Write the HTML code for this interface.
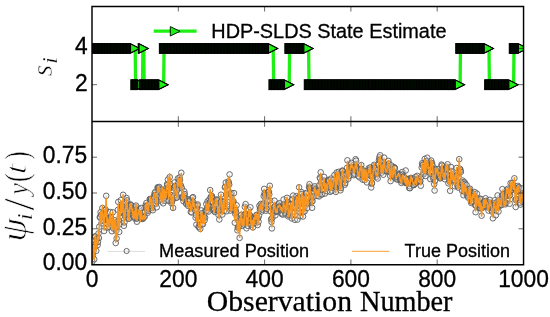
<!DOCTYPE html>
<html><head><meta charset="utf-8"><title>HDP-SLDS State Estimate</title>
<style>html,body{margin:0;padding:0;background:#fff}svg{display:block;will-change:transform}text{font-family:"Liberation Sans",sans-serif;fill:#000;stroke:#000;stroke-width:0.3px}.se{font-family:"Liberation Serif",serif}</style></head><body>
<svg width="550" height="317" viewBox="0 0 550 317">
<rect width="550" height="317" fill="#fff"/>
<defs>
<marker id="tri" markerUnits="userSpaceOnUse" markerWidth="14" markerHeight="14" refX="7" refY="7" orient="0" overflow="visible"><path d="M2.3,2.4 L11.5,7 L2.3,11.6 Z" fill="#1ef014" stroke="#000" stroke-width="1.1" stroke-linejoin="miter"/></marker>
<marker id="cir" markerUnits="userSpaceOnUse" markerWidth="8" markerHeight="8" refX="4" refY="4" overflow="visible"><circle cx="4" cy="4" r="2.80" fill="#eee" fill-opacity="0.3" stroke="#5c5c5c" stroke-opacity="0.9" stroke-width="1"/></marker>
<clipPath id="ct"><rect x="92.0" y="6.5" width="431.5" height="115.0"/></clipPath>
<clipPath id="cb"><rect x="92.0" y="121.5" width="431.5" height="143.0"/></clipPath>
</defs>
<g clip-path="url(#ct)"><polyline fill="none" stroke="#1ef014" stroke-width="3.3" stroke-linejoin="round" marker-start="url(#tri)" marker-mid="url(#tri)" marker-end="url(#tri)" points="92.0,48.4 92.4,48.4 92.9,48.4 93.3,48.4 93.7,48.4 94.2,48.4 94.6,48.4 95.0,48.4 95.5,48.4 95.9,48.4 96.3,48.4 96.7,48.4 97.2,48.4 97.6,48.4 98.0,48.4 98.5,48.4 98.9,48.4 99.3,48.4 99.8,48.4 100.2,48.4 100.6,48.4 101.1,48.4 101.5,48.4 101.9,48.4 102.4,48.4 102.8,48.4 103.2,48.4 103.7,48.4 104.1,48.4 104.5,48.4 104.9,48.4 105.4,48.4 105.8,48.4 106.2,48.4 106.7,48.4 107.1,48.4 107.5,48.4 108.0,48.4 108.4,48.4 108.8,48.4 109.3,48.4 109.7,48.4 110.1,48.4 110.6,48.4 111.0,48.4 111.4,48.4 111.8,48.4 112.3,48.4 112.7,48.4 113.1,48.4 113.6,48.4 114.0,48.4 114.4,48.4 114.9,48.4 115.3,48.4 115.7,48.4 116.2,48.4 116.6,48.4 117.0,48.4 117.5,48.4 117.9,48.4 118.3,48.4 118.8,48.4 119.2,48.4 119.6,48.4 120.0,48.4 120.5,48.4 120.9,48.4 121.3,48.4 121.8,48.4 122.2,48.4 122.6,48.4 123.1,48.4 123.5,48.4 123.9,48.4 124.4,48.4 124.8,48.4 125.2,48.4 125.7,48.4 126.1,48.4 126.5,48.4 127.0,48.4 127.4,48.4 127.8,48.4 128.2,48.4 128.7,48.4 129.1,48.4 129.5,48.4 130.0,48.4 130.4,48.4 130.8,48.4 131.3,48.4 131.7,48.4 132.1,48.4 132.6,48.4 133.0,48.4 133.4,48.4 133.9,48.4 134.3,48.4 134.7,48.4 135.2,48.4 135.6,84.7 136.0,84.7 136.4,84.7 136.9,84.7 137.3,84.7 137.7,84.7 138.2,84.7 138.6,84.7 139.0,84.7 139.5,84.7 139.9,84.7 140.3,84.7 140.8,84.7 141.2,84.7 141.6,84.7 142.1,84.7 142.5,84.7 142.9,48.4 143.3,48.4 143.8,48.4 144.2,84.7 144.6,84.7 145.1,84.7 145.5,84.7 145.9,84.7 146.4,84.7 146.8,84.7 147.2,84.7 147.7,84.7 148.1,84.7 148.5,84.7 149.0,84.7 149.4,84.7 149.8,84.7 150.3,84.7 150.7,84.7 151.1,84.7 151.5,84.7 152.0,84.7 152.4,84.7 152.8,84.7 153.3,84.7 153.7,84.7 154.1,84.7 154.6,84.7 155.0,84.7 155.4,84.7 155.9,84.7 156.3,84.7 156.7,84.7 157.2,84.7 157.6,84.7 158.0,84.7 158.5,84.7 158.9,84.7 159.3,84.7 159.7,84.7 160.2,84.7 160.6,84.7 161.0,84.7 161.5,84.7 161.9,84.7 162.3,84.7 162.8,84.7 163.2,84.7 163.6,84.7 164.1,48.4 164.5,48.4 164.9,48.4 165.4,48.4 165.8,48.4 166.2,48.4 166.6,48.4 167.1,48.4 167.5,48.4 167.9,48.4 168.4,48.4 168.8,48.4 169.2,48.4 169.7,48.4 170.1,48.4 170.5,48.4 171.0,48.4 171.4,48.4 171.8,48.4 172.3,48.4 172.7,48.4 173.1,48.4 173.6,48.4 174.0,48.4 174.4,48.4 174.8,48.4 175.3,48.4 175.7,48.4 176.1,48.4 176.6,48.4 177.0,48.4 177.4,48.4 177.9,48.4 178.3,48.4 178.7,48.4 179.2,48.4 179.6,48.4 180.0,48.4 180.5,48.4 180.9,48.4 181.3,48.4 181.8,48.4 182.2,48.4 182.6,48.4 183.0,48.4 183.5,48.4 183.9,48.4 184.3,48.4 184.8,48.4 185.2,48.4 185.6,48.4 186.1,48.4 186.5,48.4 186.9,48.4 187.4,48.4 187.8,48.4 188.2,48.4 188.7,48.4 189.1,48.4 189.5,48.4 190.0,48.4 190.4,48.4 190.8,48.4 191.2,48.4 191.7,48.4 192.1,48.4 192.5,48.4 193.0,48.4 193.4,48.4 193.8,48.4 194.3,48.4 194.7,48.4 195.1,48.4 195.6,48.4 196.0,48.4 196.4,48.4 196.9,48.4 197.3,48.4 197.7,48.4 198.1,48.4 198.6,48.4 199.0,48.4 199.4,48.4 199.9,48.4 200.3,48.4 200.7,48.4 201.2,48.4 201.6,48.4 202.0,48.4 202.5,48.4 202.9,48.4 203.3,48.4 203.8,48.4 204.2,48.4 204.6,48.4 205.1,48.4 205.5,48.4 205.9,48.4 206.3,48.4 206.8,48.4 207.2,48.4 207.6,48.4 208.1,48.4 208.5,48.4 208.9,48.4 209.4,48.4 209.8,48.4 210.2,48.4 210.7,48.4 211.1,48.4 211.5,48.4 212.0,48.4 212.4,48.4 212.8,48.4 213.3,48.4 213.7,48.4 214.1,48.4 214.5,48.4 215.0,48.4 215.4,48.4 215.8,48.4 216.3,48.4 216.7,48.4 217.1,48.4 217.6,48.4 218.0,48.4 218.4,48.4 218.9,48.4 219.3,48.4 219.7,48.4 220.2,48.4 220.6,48.4 221.0,48.4 221.4,48.4 221.9,48.4 222.3,48.4 222.7,48.4 223.2,48.4 223.6,48.4 224.0,48.4 224.5,48.4 224.9,48.4 225.3,48.4 225.8,48.4 226.2,48.4 226.6,48.4 227.1,48.4 227.5,48.4 227.9,48.4 228.4,48.4 228.8,48.4 229.2,48.4 229.6,48.4 230.1,48.4 230.5,48.4 230.9,48.4 231.4,48.4 231.8,48.4 232.2,48.4 232.7,48.4 233.1,48.4 233.5,48.4 234.0,48.4 234.4,48.4 234.8,48.4 235.3,48.4 235.7,48.4 236.1,48.4 236.6,48.4 237.0,48.4 237.4,48.4 237.8,48.4 238.3,48.4 238.7,48.4 239.1,48.4 239.6,48.4 240.0,48.4 240.4,48.4 240.9,48.4 241.3,48.4 241.7,48.4 242.2,48.4 242.6,48.4 243.0,48.4 243.5,48.4 243.9,48.4 244.3,48.4 244.8,48.4 245.2,48.4 245.6,48.4 246.0,48.4 246.5,48.4 246.9,48.4 247.3,48.4 247.8,48.4 248.2,48.4 248.6,48.4 249.1,48.4 249.5,48.4 249.9,48.4 250.4,48.4 250.8,48.4 251.2,48.4 251.7,48.4 252.1,48.4 252.5,48.4 252.9,48.4 253.4,48.4 253.8,48.4 254.2,48.4 254.7,48.4 255.1,48.4 255.5,48.4 256.0,48.4 256.4,48.4 256.8,48.4 257.3,48.4 257.7,48.4 258.1,48.4 258.6,48.4 259.0,48.4 259.4,48.4 259.9,48.4 260.3,48.4 260.7,48.4 261.1,48.4 261.6,48.4 262.0,48.4 262.4,48.4 262.9,48.4 263.3,48.4 263.7,48.4 264.2,48.4 264.6,48.4 265.0,48.4 265.5,48.4 265.9,48.4 266.3,48.4 266.8,48.4 267.2,48.4 267.6,48.4 268.1,48.4 268.5,48.4 268.9,48.4 269.3,48.4 269.8,48.4 270.2,48.4 270.6,48.4 271.1,48.4 271.5,48.4 271.9,48.4 272.4,48.4 272.8,48.4 273.2,48.4 273.7,84.7 274.1,84.7 274.5,84.7 275.0,84.7 275.4,84.7 275.8,84.7 276.3,84.7 276.7,84.7 277.1,84.7 277.5,84.7 278.0,84.7 278.4,84.7 278.8,84.7 279.3,84.7 279.7,84.7 280.1,84.7 280.6,84.7 281.0,84.7 281.4,84.7 281.9,84.7 282.3,84.7 282.7,84.7 283.2,84.7 283.6,84.7 284.0,84.7 284.4,84.7 284.9,84.7 285.3,84.7 285.7,84.7 286.2,84.7 286.6,84.7 287.0,84.7 287.5,84.7 287.9,84.7 288.3,84.7 288.8,84.7 289.2,84.7 289.6,48.4 290.1,48.4 290.5,48.4 290.9,48.4 291.4,48.4 291.8,48.4 292.2,48.4 292.6,48.4 293.1,48.4 293.5,48.4 293.9,48.4 294.4,48.4 294.8,48.4 295.2,48.4 295.7,48.4 296.1,48.4 296.5,48.4 297.0,48.4 297.4,48.4 297.8,48.4 298.3,48.4 298.7,48.4 299.1,48.4 299.6,48.4 300.0,48.4 300.4,48.4 300.8,48.4 301.3,48.4 301.7,48.4 302.1,48.4 302.6,48.4 303.0,48.4 303.4,48.4 303.9,48.4 304.3,48.4 304.7,48.4 305.2,48.4 305.6,48.4 306.0,48.4 306.5,48.4 306.9,48.4 307.3,48.4 307.8,48.4 308.2,48.4 308.6,48.4 309.0,84.7 309.5,84.7 309.9,84.7 310.3,84.7 310.8,84.7 311.2,84.7 311.6,84.7 312.1,84.7 312.5,84.7 312.9,84.7 313.4,84.7 313.8,84.7 314.2,84.7 314.7,84.7 315.1,84.7 315.5,84.7 315.9,84.7 316.4,84.7 316.8,84.7 317.2,84.7 317.7,84.7 318.1,84.7 318.5,84.7 319.0,84.7 319.4,84.7 319.8,84.7 320.3,84.7 320.7,84.7 321.1,84.7 321.6,84.7 322.0,84.7 322.4,84.7 322.9,84.7 323.3,84.7 323.7,84.7 324.1,84.7 324.6,84.7 325.0,84.7 325.4,84.7 325.9,84.7 326.3,84.7 326.7,84.7 327.2,84.7 327.6,84.7 328.0,84.7 328.5,84.7 328.9,84.7 329.3,84.7 329.8,84.7 330.2,84.7 330.6,84.7 331.1,84.7 331.5,84.7 331.9,84.7 332.3,84.7 332.8,84.7 333.2,84.7 333.6,84.7 334.1,84.7 334.5,84.7 334.9,84.7 335.4,84.7 335.8,84.7 336.2,84.7 336.7,84.7 337.1,84.7 337.5,84.7 338.0,84.7 338.4,84.7 338.8,84.7 339.2,84.7 339.7,84.7 340.1,84.7 340.5,84.7 341.0,84.7 341.4,84.7 341.8,84.7 342.3,84.7 342.7,84.7 343.1,84.7 343.6,84.7 344.0,84.7 344.4,84.7 344.9,84.7 345.3,84.7 345.7,84.7 346.2,84.7 346.6,84.7 347.0,84.7 347.4,84.7 347.9,84.7 348.3,84.7 348.7,84.7 349.2,84.7 349.6,84.7 350.0,84.7 350.5,84.7 350.9,84.7 351.3,84.7 351.8,84.7 352.2,84.7 352.6,84.7 353.1,84.7 353.5,84.7 353.9,84.7 354.4,84.7 354.8,84.7 355.2,84.7 355.6,84.7 356.1,84.7 356.5,84.7 356.9,84.7 357.4,84.7 357.8,84.7 358.2,84.7 358.7,84.7 359.1,84.7 359.5,84.7 360.0,84.7 360.4,84.7 360.8,84.7 361.3,84.7 361.7,84.7 362.1,84.7 362.6,84.7 363.0,84.7 363.4,84.7 363.8,84.7 364.3,84.7 364.7,84.7 365.1,84.7 365.6,84.7 366.0,84.7 366.4,84.7 366.9,84.7 367.3,84.7 367.7,84.7 368.2,84.7 368.6,84.7 369.0,84.7 369.5,84.7 369.9,84.7 370.3,84.7 370.7,84.7 371.2,84.7 371.6,84.7 372.0,84.7 372.5,84.7 372.9,84.7 373.3,84.7 373.8,84.7 374.2,84.7 374.6,84.7 375.1,84.7 375.5,84.7 375.9,84.7 376.4,84.7 376.8,84.7 377.2,84.7 377.7,84.7 378.1,84.7 378.5,84.7 378.9,84.7 379.4,84.7 379.8,84.7 380.2,84.7 380.7,84.7 381.1,84.7 381.5,84.7 382.0,84.7 382.4,84.7 382.8,84.7 383.3,84.7 383.7,84.7 384.1,84.7 384.6,84.7 385.0,84.7 385.4,84.7 385.9,84.7 386.3,84.7 386.7,84.7 387.1,84.7 387.6,84.7 388.0,84.7 388.4,84.7 388.9,84.7 389.3,84.7 389.7,84.7 390.2,84.7 390.6,84.7 391.0,84.7 391.5,84.7 391.9,84.7 392.3,84.7 392.8,84.7 393.2,84.7 393.6,84.7 394.1,84.7 394.5,84.7 394.9,84.7 395.3,84.7 395.8,84.7 396.2,84.7 396.6,84.7 397.1,84.7 397.5,84.7 397.9,84.7 398.4,84.7 398.8,84.7 399.2,84.7 399.7,84.7 400.1,84.7 400.5,84.7 401.0,84.7 401.4,84.7 401.8,84.7 402.2,84.7 402.7,84.7 403.1,84.7 403.5,84.7 404.0,84.7 404.4,84.7 404.8,84.7 405.3,84.7 405.7,84.7 406.1,84.7 406.6,84.7 407.0,84.7 407.4,84.7 407.9,84.7 408.3,84.7 408.7,84.7 409.2,84.7 409.6,84.7 410.0,84.7 410.4,84.7 410.9,84.7 411.3,84.7 411.7,84.7 412.2,84.7 412.6,84.7 413.0,84.7 413.5,84.7 413.9,84.7 414.3,84.7 414.8,84.7 415.2,84.7 415.6,84.7 416.1,84.7 416.5,84.7 416.9,84.7 417.4,84.7 417.8,84.7 418.2,84.7 418.6,84.7 419.1,84.7 419.5,84.7 419.9,84.7 420.4,84.7 420.8,84.7 421.2,84.7 421.7,84.7 422.1,84.7 422.5,84.7 423.0,84.7 423.4,84.7 423.8,84.7 424.3,84.7 424.7,84.7 425.1,84.7 425.5,84.7 426.0,84.7 426.4,84.7 426.8,84.7 427.3,84.7 427.7,84.7 428.1,84.7 428.6,84.7 429.0,84.7 429.4,84.7 429.9,84.7 430.3,84.7 430.7,84.7 431.2,84.7 431.6,84.7 432.0,84.7 432.5,84.7 432.9,84.7 433.3,84.7 433.7,84.7 434.2,84.7 434.6,84.7 435.0,84.7 435.5,84.7 435.9,84.7 436.3,84.7 436.8,84.7 437.2,84.7 437.6,84.7 438.1,84.7 438.5,84.7 438.9,84.7 439.4,84.7 439.8,84.7 440.2,84.7 440.7,84.7 441.1,84.7 441.5,84.7 441.9,84.7 442.4,84.7 442.8,84.7 443.2,84.7 443.7,84.7 444.1,84.7 444.5,84.7 445.0,84.7 445.4,84.7 445.8,84.7 446.3,84.7 446.7,84.7 447.1,84.7 447.6,84.7 448.0,84.7 448.4,84.7 448.9,84.7 449.3,84.7 449.7,84.7 450.1,84.7 450.6,84.7 451.0,84.7 451.4,84.7 451.9,84.7 452.3,84.7 452.7,84.7 453.2,84.7 453.6,84.7 454.0,84.7 454.5,84.7 454.9,84.7 455.3,84.7 455.8,84.7 456.2,84.7 456.6,84.7 457.0,84.7 457.5,84.7 457.9,84.7 458.3,84.7 458.8,84.7 459.2,84.7 459.6,84.7 460.1,84.7 460.5,48.4 460.9,48.4 461.4,48.4 461.8,48.4 462.2,48.4 462.7,48.4 463.1,48.4 463.5,48.4 464.0,48.4 464.4,48.4 464.8,48.4 465.2,48.4 465.7,48.4 466.1,48.4 466.5,48.4 467.0,48.4 467.4,48.4 467.8,48.4 468.3,48.4 468.7,48.4 469.1,48.4 469.6,48.4 470.0,48.4 470.4,48.4 470.9,48.4 471.3,48.4 471.7,48.4 472.2,48.4 472.6,48.4 473.0,48.4 473.4,48.4 473.9,48.4 474.3,48.4 474.7,48.4 475.2,48.4 475.6,48.4 476.0,48.4 476.5,48.4 476.9,48.4 477.3,48.4 477.8,48.4 478.2,48.4 478.6,48.4 479.1,48.4 479.5,48.4 479.9,48.4 480.4,48.4 480.8,48.4 481.2,48.4 481.6,48.4 482.1,48.4 482.5,48.4 482.9,48.4 483.4,48.4 483.8,48.4 484.2,48.4 484.7,48.4 485.1,48.4 485.5,48.4 486.0,48.4 486.4,48.4 486.8,48.4 487.3,48.4 487.7,48.4 488.1,48.4 488.5,48.4 489.0,48.4 489.4,84.7 489.8,84.7 490.3,84.7 490.7,84.7 491.1,84.7 491.6,84.7 492.0,84.7 492.4,84.7 492.9,84.7 493.3,84.7 493.7,84.7 494.2,84.7 494.6,84.7 495.0,84.7 495.5,84.7 495.9,84.7 496.3,84.7 496.7,84.7 497.2,84.7 497.6,84.7 498.0,84.7 498.5,84.7 498.9,84.7 499.3,84.7 499.8,84.7 500.2,84.7 500.6,84.7 501.1,84.7 501.5,84.7 501.9,84.7 502.4,84.7 502.8,84.7 503.2,84.7 503.7,84.7 504.1,84.7 504.5,84.7 504.9,84.7 505.4,84.7 505.8,84.7 506.2,84.7 506.7,84.7 507.1,84.7 507.5,84.7 508.0,84.7 508.4,84.7 508.8,84.7 509.3,84.7 509.7,84.7 510.1,84.7 510.6,84.7 511.0,84.7 511.4,84.7 511.8,84.7 512.3,84.7 512.7,84.7 513.1,84.7 513.6,84.7 514.0,48.4 514.4,48.4 514.9,48.4 515.3,48.4 515.7,48.4 516.2,48.4 516.6,48.4 517.0,48.4 517.5,48.4 517.9,48.4 518.3,48.4 518.8,48.4 519.2,48.4 519.6,48.4 520.0,48.4 520.5,48.4 520.9,48.4 521.3,48.4 521.8,48.4 522.2,48.4 522.6,48.4 523.1,48.4"/></g>
<g clip-path="url(#cb)">
<polyline fill="none" stroke="#bdbdbd" stroke-opacity="0.6" stroke-width="1" marker-start="url(#cir)" marker-mid="url(#cir)" marker-end="url(#cir)" points="92.0,259.3 92.4,261.5 92.9,255.6 93.3,249.3 93.7,250.7 94.2,259.3 94.6,246.7 95.0,236.5 95.5,236.7 95.9,243.3 96.3,250.8 96.7,239.5 97.2,238.8 97.6,245.1 98.0,241.9 98.5,233.5 98.9,238.0 99.3,226.7 99.8,217.3 100.2,217.0 100.6,212.3 101.1,214.8 101.5,223.4 101.9,221.0 102.4,208.0 102.8,213.7 103.2,216.7 103.7,220.3 104.1,231.0 104.5,217.9 104.9,210.0 105.4,217.0 105.8,209.9 106.2,195.8 106.7,217.8 107.1,227.6 107.5,224.1 108.0,220.3 108.4,218.3 108.8,218.4 109.3,227.0 109.7,221.9 110.1,212.0 110.6,217.4 111.0,217.6 111.4,221.5 111.8,231.2 112.3,225.6 112.7,212.3 113.1,224.1 113.6,228.5 114.0,226.1 114.4,223.6 114.9,220.4 115.3,227.7 115.7,243.0 116.2,230.7 116.6,238.4 117.0,226.7 117.5,221.6 117.9,209.9 118.3,201.9 118.8,220.2 119.2,231.9 119.6,224.3 120.0,216.4 120.5,212.9 120.9,200.1 121.3,204.8 121.8,206.3 122.2,208.0 122.6,206.0 123.1,194.8 123.5,212.3 123.9,225.8 124.4,222.4 124.8,215.6 125.2,213.3 125.7,209.7 126.1,202.2 126.5,198.0 127.0,200.4 127.4,207.2 127.8,210.1 128.2,218.6 128.7,215.7 129.1,218.6 129.5,210.2 130.0,206.5 130.4,204.4 130.8,205.2 131.3,205.4 131.7,207.6 132.1,208.8 132.6,211.4 133.0,214.6 133.4,215.6 133.9,217.1 134.3,209.7 134.7,213.1 135.2,218.8 135.6,207.1 136.0,205.6 136.4,218.4 136.9,221.7 137.3,218.5 137.7,216.7 138.2,212.4 138.6,213.9 139.0,210.7 139.5,209.1 139.9,215.2 140.3,218.3 140.8,217.7 141.2,208.0 141.6,214.9 142.1,218.4 142.5,219.0 142.9,217.7 143.3,218.2 143.8,212.6 144.2,216.6 144.6,216.8 145.1,212.2 145.5,205.6 145.9,206.9 146.4,203.0 146.8,205.8 147.2,209.7 147.7,212.7 148.1,210.8 148.5,208.9 149.0,204.4 149.4,204.2 149.8,199.1 150.3,199.3 150.7,199.9 151.1,198.9 151.5,206.2 152.0,207.5 152.4,208.2 152.8,210.2 153.3,199.5 153.7,196.5 154.1,197.5 154.6,193.2 155.0,194.8 155.4,191.8 155.9,203.8 156.3,201.1 156.7,207.3 157.2,194.6 157.6,187.3 158.0,188.1 158.5,187.8 158.9,190.7 159.3,187.0 159.7,189.7 160.2,192.3 160.6,196.4 161.0,199.1 161.5,201.4 161.9,193.6 162.3,189.6 162.8,192.7 163.2,203.3 163.6,191.4 164.1,191.6 164.5,196.7 164.9,197.6 165.4,200.7 165.8,194.6 166.2,191.5 166.6,187.8 167.1,184.1 167.5,185.0 167.9,179.6 168.4,188.2 168.8,200.9 169.2,188.8 169.7,177.1 170.1,183.7 170.5,195.2 171.0,195.1 171.4,203.2 171.8,201.6 172.3,200.7 172.7,197.7 173.1,207.9 173.6,196.1 174.0,187.6 174.4,182.5 174.8,186.1 175.3,186.2 175.7,189.7 176.1,197.9 176.6,195.4 177.0,197.4 177.4,190.0 177.9,178.5 178.3,183.2 178.7,188.2 179.2,180.4 179.6,177.5 180.0,180.1 180.5,185.6 180.9,185.5 181.3,172.8 181.8,188.1 182.2,197.8 182.6,196.6 183.0,198.1 183.5,201.2 183.9,195.3 184.3,191.4 184.8,194.1 185.2,198.5 185.6,198.6 186.1,203.6 186.5,203.9 186.9,200.8 187.4,201.1 187.8,202.7 188.2,205.9 188.7,199.2 189.1,201.6 189.5,200.7 190.0,200.3 190.4,205.5 190.8,211.9 191.2,207.5 191.7,212.5 192.1,205.0 192.5,198.0 193.0,197.1 193.4,202.4 193.8,204.5 194.3,205.0 194.7,205.1 195.1,210.4 195.6,217.6 196.0,215.0 196.4,224.6 196.9,208.9 197.3,205.6 197.7,204.5 198.1,219.2 198.6,227.0 199.0,226.8 199.4,221.7 199.9,224.5 200.3,228.9 200.7,219.9 201.2,210.4 201.6,217.2 202.0,213.3 202.5,223.6 202.9,224.2 203.3,217.9 203.8,216.2 204.2,217.1 204.6,220.4 205.1,217.6 205.5,210.4 205.9,211.3 206.3,204.1 206.8,210.9 207.2,207.8 207.6,201.3 208.1,206.6 208.5,211.6 208.9,204.7 209.4,199.4 209.8,202.0 210.2,190.1 210.7,197.1 211.1,201.5 211.5,196.0 212.0,196.2 212.4,198.2 212.8,202.0 213.3,209.9 213.7,210.7 214.1,208.7 214.5,209.3 215.0,212.1 215.4,200.8 215.8,205.2 216.3,205.0 216.7,199.4 217.1,200.3 217.6,208.7 218.0,210.9 218.4,214.6 218.9,210.9 219.3,219.5 219.7,206.8 220.2,202.6 220.6,202.2 221.0,194.7 221.4,201.0 221.9,205.6 222.3,214.5 222.7,205.6 223.2,202.0 223.6,204.0 224.0,211.0 224.5,201.5 224.9,187.4 225.3,186.7 225.8,182.6 226.2,194.6 226.6,211.3 227.1,204.6 227.5,201.8 227.9,190.0 228.4,181.4 228.8,182.9 229.2,184.6 229.6,174.4 230.1,193.6 230.5,210.6 230.9,194.9 231.4,192.9 231.8,209.2 232.2,206.0 232.7,203.6 233.1,202.3 233.5,201.3 234.0,193.1 234.4,209.9 234.8,222.7 235.3,213.9 235.7,210.3 236.1,212.4 236.6,205.3 237.0,217.4 237.4,230.3 237.8,227.6 238.3,227.0 238.7,221.4 239.1,226.0 239.6,237.9 240.0,219.5 240.4,218.4 240.9,220.1 241.3,215.0 241.7,222.3 242.2,225.9 242.6,222.8 243.0,220.0 243.5,221.2 243.9,224.6 244.3,214.5 244.8,206.9 245.2,213.9 245.6,204.1 246.0,213.8 246.5,228.3 246.9,218.1 247.3,218.6 247.8,225.8 248.2,217.7 248.6,209.7 249.1,214.6 249.5,218.6 249.9,215.1 250.4,207.3 250.8,220.8 251.2,224.7 251.7,224.6 252.1,217.9 252.5,222.1 252.9,227.4 253.4,219.3 253.8,218.1 254.2,223.1 254.7,222.9 255.1,218.9 255.5,218.1 256.0,217.5 256.4,215.2 256.8,214.8 257.3,218.1 257.7,225.0 258.1,218.4 258.6,221.7 259.0,215.8 259.4,205.7 259.9,209.4 260.3,208.1 260.7,204.0 261.1,208.0 261.6,211.5 262.0,205.5 262.4,209.8 262.9,205.6 263.3,203.4 263.7,196.0 264.2,188.9 264.6,193.2 265.0,194.7 265.5,198.6 265.9,210.7 266.3,205.9 266.8,209.0 267.2,201.6 267.6,200.6 268.1,192.0 268.5,192.4 268.9,191.7 269.3,194.3 269.8,185.8 270.2,200.5 270.6,211.3 271.1,219.2 271.5,221.9 271.9,228.4 272.4,217.8 272.8,213.5 273.2,213.0 273.7,210.7 274.1,207.0 274.5,200.7 275.0,206.2 275.4,215.3 275.8,211.9 276.3,211.0 276.7,210.3 277.1,211.2 277.5,206.1 278.0,204.5 278.4,207.4 278.8,207.0 279.3,203.2 279.7,206.6 280.1,207.2 280.6,210.4 281.0,209.6 281.4,213.8 281.9,213.3 282.3,208.7 282.7,214.6 283.2,207.1 283.6,199.5 284.0,204.5 284.4,204.9 284.9,206.2 285.3,212.9 285.7,214.4 286.2,204.7 286.6,205.3 287.0,197.8 287.5,202.1 287.9,203.8 288.3,216.4 288.8,212.3 289.2,215.1 289.6,212.5 290.1,211.1 290.5,204.3 290.9,204.4 291.4,207.8 291.8,218.4 292.2,208.2 292.6,199.0 293.1,195.6 293.5,203.5 293.9,207.0 294.4,211.7 294.8,219.8 295.2,208.1 295.7,207.5 296.1,201.7 296.5,196.1 297.0,201.5 297.4,219.6 297.8,205.3 298.3,198.1 298.7,197.1 299.1,187.3 299.6,197.9 300.0,216.3 300.4,212.9 300.8,203.5 301.3,200.3 301.7,192.2 302.1,193.9 302.6,203.6 303.0,216.5 303.4,211.7 303.9,195.6 304.3,203.9 304.7,211.3 305.2,205.9 305.6,201.4 306.0,193.8 306.5,192.9 306.9,203.9 307.3,207.9 307.8,202.5 308.2,197.6 308.6,198.2 309.0,187.0 309.5,184.2 309.9,187.9 310.3,189.5 310.8,192.0 311.2,195.9 311.6,201.9 312.1,207.8 312.5,201.1 312.9,197.3 313.4,191.1 313.8,191.9 314.2,187.8 314.7,186.3 315.1,189.3 315.5,190.6 315.9,195.7 316.4,192.4 316.8,191.7 317.2,191.0 317.7,195.7 318.1,193.1 318.5,191.3 319.0,196.4 319.4,185.1 319.8,177.7 320.3,178.6 320.7,172.3 321.1,182.6 321.6,194.6 322.0,194.2 322.4,184.7 322.9,190.2 323.3,181.4 323.7,180.5 324.1,176.9 324.6,186.4 325.0,193.5 325.4,184.3 325.9,185.2 326.3,186.1 326.7,186.3 327.2,191.2 327.6,187.5 328.0,179.9 328.5,182.2 328.9,180.4 329.3,180.4 329.8,187.9 330.2,191.8 330.6,187.2 331.1,178.6 331.5,187.5 331.9,190.7 332.3,183.0 332.8,184.4 333.2,182.4 333.6,180.4 334.1,179.0 334.5,175.0 334.9,183.4 335.4,184.7 335.8,191.9 336.2,185.9 336.7,172.5 337.1,184.1 337.5,182.7 338.0,175.9 338.4,174.4 338.8,171.8 339.2,177.5 339.7,180.1 340.1,186.1 340.5,190.3 341.0,188.0 341.4,180.8 341.8,171.8 342.3,170.6 342.7,170.9 343.1,174.2 343.6,178.7 344.0,175.3 344.4,178.6 344.9,184.6 345.3,182.9 345.7,179.8 346.2,174.6 346.6,174.1 347.0,167.9 347.4,160.3 347.9,172.2 348.3,178.8 348.7,172.7 349.2,176.0 349.6,170.3 350.0,168.5 350.5,166.8 350.9,164.6 351.3,162.9 351.8,167.1 352.2,168.0 352.6,171.1 353.1,167.7 353.5,172.5 353.9,175.2 354.4,173.9 354.8,168.2 355.2,167.3 355.6,159.2 356.1,160.7 356.5,166.7 356.9,167.9 357.4,171.4 357.8,171.5 358.2,175.9 358.7,168.9 359.1,172.5 359.5,177.4 360.0,169.6 360.4,169.8 360.8,169.2 361.3,165.1 361.7,169.0 362.1,174.9 362.6,179.6 363.0,175.6 363.4,172.9 363.8,171.2 364.3,175.7 364.7,180.1 365.1,177.3 365.6,175.6 366.0,171.5 366.4,174.9 366.9,182.4 367.3,175.1 367.7,174.7 368.2,171.6 368.6,168.3 369.0,169.8 369.5,172.0 369.9,169.7 370.3,167.4 370.7,176.0 371.2,187.4 371.6,183.7 372.0,183.0 372.5,177.7 372.9,175.6 373.3,169.0 373.8,166.4 374.2,164.8 374.6,167.6 375.1,168.3 375.5,173.6 375.9,174.3 376.4,174.1 376.8,176.7 377.2,173.2 377.7,178.5 378.1,169.7 378.5,164.0 378.9,160.2 379.4,157.3 379.8,159.6 380.2,155.3 380.7,160.7 381.1,167.2 381.5,172.7 382.0,170.3 382.4,166.9 382.8,165.9 383.3,174.7 383.7,166.7 384.1,157.6 384.6,164.6 385.0,169.8 385.4,170.1 385.9,171.3 386.3,171.1 386.7,170.8 387.1,169.2 387.6,165.5 388.0,166.0 388.4,160.9 388.9,163.6 389.3,171.2 389.7,172.2 390.2,175.9 390.6,181.1 391.0,172.6 391.5,165.5 391.9,169.5 392.3,175.1 392.8,174.8 393.2,174.5 393.6,173.5 394.1,167.1 394.5,168.6 394.9,168.1 395.3,177.8 395.8,178.7 396.2,176.8 396.6,176.5 397.1,176.9 397.5,179.7 397.9,174.4 398.4,175.6 398.8,173.6 399.2,175.2 399.7,174.3 400.1,180.3 400.5,178.5 401.0,180.1 401.4,182.9 401.8,180.3 402.2,172.0 402.7,174.6 403.1,176.8 403.5,176.5 404.0,177.1 404.4,181.5 404.8,182.4 405.3,178.2 405.7,170.5 406.1,183.1 406.6,182.8 407.0,183.1 407.4,179.4 407.9,179.8 408.3,178.9 408.7,183.6 409.2,188.0 409.6,186.1 410.0,188.2 410.4,182.2 410.9,177.9 411.3,178.5 411.7,179.5 412.2,178.9 412.6,180.2 413.0,184.6 413.5,185.1 413.9,185.0 414.3,179.1 414.8,182.1 415.2,183.7 415.6,176.8 416.1,180.7 416.5,182.1 416.9,180.3 417.4,175.9 417.8,179.7 418.2,181.1 418.6,179.0 419.1,179.0 419.5,181.1 419.9,182.0 420.4,181.2 420.8,185.7 421.2,176.9 421.7,167.5 422.1,163.3 422.5,165.3 423.0,164.6 423.4,172.9 423.8,174.2 424.3,166.9 424.7,159.0 425.1,171.4 425.5,176.0 426.0,168.8 426.4,161.1 426.8,160.9 427.3,157.7 427.7,166.0 428.1,165.9 428.6,166.6 429.0,168.6 429.4,172.5 429.9,171.6 430.3,179.1 430.7,167.3 431.2,160.6 431.6,164.7 432.0,163.1 432.5,165.5 432.9,171.3 433.3,178.7 433.7,177.4 434.2,184.2 434.6,190.5 435.0,180.9 435.5,168.8 435.9,169.8 436.3,171.2 436.8,171.2 437.2,172.9 437.6,173.7 438.1,169.0 438.5,175.2 438.9,174.4 439.4,176.2 439.8,177.8 440.2,178.4 440.7,177.5 441.1,172.8 441.5,164.6 441.9,165.6 442.4,168.8 442.8,170.0 443.2,175.4 443.7,176.2 444.1,176.8 444.5,175.3 445.0,179.3 445.4,174.0 445.8,168.4 446.3,168.1 446.7,166.7 447.1,168.4 447.6,164.3 448.0,174.8 448.4,183.3 448.9,179.0 449.3,176.3 449.7,181.8 450.1,190.8 450.6,179.0 451.0,167.0 451.4,171.4 451.9,176.2 452.3,176.9 452.7,180.3 453.2,174.2 453.6,176.7 454.0,178.2 454.5,180.3 454.9,186.3 455.3,176.2 455.8,175.9 456.2,176.0 456.6,168.0 457.0,175.1 457.5,186.1 457.9,185.2 458.3,187.6 458.8,177.6 459.2,159.2 459.6,171.6 460.1,168.9 460.5,170.3 460.9,171.9 461.4,182.3 461.8,181.9 462.2,190.8 462.7,180.6 463.1,183.5 463.5,195.2 464.0,191.3 464.4,182.1 464.8,187.3 465.2,183.8 465.7,189.5 466.1,189.9 466.5,185.1 467.0,194.8 467.4,194.3 467.8,196.3 468.3,197.7 468.7,192.8 469.1,189.3 469.6,191.1 470.0,188.7 470.4,192.4 470.9,199.5 471.3,203.0 471.7,201.6 472.2,201.2 472.6,193.3 473.0,196.4 473.4,195.5 473.9,193.9 474.3,195.8 474.7,192.1 475.2,205.2 475.6,212.2 476.0,205.8 476.5,201.2 476.9,193.6 477.3,199.0 477.8,200.7 478.2,199.3 478.6,206.3 479.1,202.9 479.5,198.6 479.9,208.2 480.4,208.0 480.8,198.9 481.2,206.5 481.6,215.7 482.1,207.2 482.5,207.7 482.9,206.0 483.4,206.9 483.8,202.1 484.2,203.4 484.7,201.2 485.1,206.1 485.5,198.3 486.0,200.9 486.4,201.2 486.8,202.9 487.3,202.1 487.7,207.6 488.1,203.2 488.5,210.6 489.0,206.3 489.4,202.4 489.8,199.9 490.3,205.5 490.7,203.8 491.1,206.1 491.6,210.1 492.0,211.6 492.4,208.4 492.9,218.3 493.3,207.9 493.7,209.6 494.2,203.0 494.6,200.3 495.0,204.4 495.5,208.2 495.9,215.2 496.3,210.3 496.7,208.0 497.2,201.9 497.6,195.4 498.0,204.3 498.5,211.5 498.9,203.5 499.3,201.5 499.8,205.4 500.2,205.4 500.6,203.8 501.1,205.2 501.5,205.0 501.9,195.6 502.4,189.1 502.8,195.2 503.2,194.5 503.7,200.6 504.1,201.9 504.5,202.0 504.9,203.3 505.4,204.3 505.8,202.6 506.2,195.9 506.7,190.0 507.1,194.9 507.5,192.7 508.0,188.7 508.4,191.7 508.8,193.6 509.3,195.9 509.7,203.7 510.1,195.1 510.6,183.1 511.0,190.2 511.4,190.2 511.8,187.3 512.3,183.1 512.7,187.2 513.1,185.1 513.6,188.6 514.0,187.9 514.4,178.3 514.9,188.2 515.3,199.8 515.7,207.0 516.2,199.0 516.6,191.4 517.0,189.0 517.5,189.5 517.9,185.9 518.3,187.8 518.8,187.2 519.2,191.9 519.6,202.2 520.0,203.0 520.5,204.6 520.9,198.0 521.3,194.1 521.8,188.5 522.2,196.5 522.6,194.0 523.1,201.7"/>
<polyline fill="none" stroke="#fb951c" stroke-width="1.55" stroke-linejoin="round" points="92.0,261.3 92.4,256.2 92.9,252.9 93.3,247.9 93.7,251.1 94.2,259.0 94.6,247.0 95.0,236.5 95.5,234.7 95.9,242.6 96.3,249.8 96.7,240.3 97.2,239.9 97.6,243.6 98.0,238.5 98.5,232.1 98.9,237.6 99.3,227.0 99.8,221.4 100.2,217.8 100.6,212.3 101.1,216.7 101.5,223.4 101.9,219.7 102.4,205.4 102.8,213.6 103.2,214.9 103.7,218.5 104.1,230.0 104.5,217.5 104.9,209.8 105.4,216.2 105.8,208.6 106.2,198.7 106.7,214.5 107.1,228.7 107.5,224.3 108.0,222.6 108.4,220.0 108.8,219.2 109.3,228.5 109.7,219.9 110.1,212.3 110.6,216.5 111.0,220.3 111.4,224.7 111.8,229.8 112.3,224.8 112.7,212.0 113.1,222.2 113.6,229.4 114.0,224.7 114.4,222.1 114.9,219.5 115.3,227.1 115.7,241.9 116.2,230.1 116.6,239.0 117.0,225.9 117.5,217.6 117.9,208.4 118.3,204.6 118.8,221.8 119.2,230.0 119.6,223.2 120.0,213.6 120.5,212.4 120.9,200.9 121.3,205.4 121.8,205.0 122.2,211.5 122.6,206.7 123.1,194.7 123.5,210.7 123.9,224.4 124.4,221.0 124.8,215.7 125.2,211.9 125.7,207.8 126.1,203.2 126.5,199.4 127.0,202.5 127.4,206.8 127.8,211.9 128.2,220.1 128.7,213.4 129.1,219.8 129.5,211.4 130.0,205.8 130.4,203.9 130.8,203.8 131.3,205.1 131.7,209.4 132.1,208.5 132.6,213.2 133.0,215.1 133.4,218.2 133.9,214.7 134.3,211.5 134.7,210.9 135.2,218.8 135.6,207.3 136.0,204.4 136.4,213.9 136.9,219.6 137.3,218.2 137.7,215.8 138.2,213.0 138.6,212.4 139.0,211.1 139.5,209.9 139.9,214.2 140.3,221.7 140.8,216.0 141.2,210.8 141.6,213.9 142.1,217.1 142.5,217.5 142.9,219.2 143.3,217.1 143.8,216.4 144.2,215.7 144.6,219.1 145.1,211.6 145.5,205.6 145.9,207.7 146.4,208.1 146.8,202.4 147.2,209.2 147.7,212.8 148.1,210.0 148.5,209.5 149.0,204.3 149.4,204.8 149.8,201.1 150.3,196.8 150.7,198.6 151.1,199.0 151.5,205.2 152.0,203.4 152.4,207.5 152.8,210.3 153.3,199.7 153.7,196.3 154.1,196.7 154.6,192.9 155.0,194.2 155.4,196.2 155.9,202.4 156.3,200.8 156.7,205.8 157.2,196.3 157.6,186.8 158.0,191.6 158.5,189.5 158.9,187.7 159.3,188.1 159.7,191.0 160.2,193.3 160.6,196.0 161.0,199.5 161.5,201.9 161.9,191.8 162.3,187.2 162.8,190.4 163.2,202.4 163.6,190.9 164.1,189.4 164.5,194.6 164.9,198.4 165.4,198.5 165.8,197.3 166.2,193.3 166.6,188.2 167.1,186.0 167.5,183.1 167.9,177.5 168.4,186.4 168.8,199.0 169.2,187.5 169.7,173.7 170.1,183.4 170.5,194.0 171.0,197.9 171.4,204.4 171.8,202.0 172.3,201.0 172.7,196.9 173.1,209.5 173.6,195.9 174.0,187.1 174.4,183.7 174.8,186.3 175.3,189.5 175.7,190.2 176.1,193.8 176.6,194.7 177.0,197.7 177.4,191.0 177.9,177.5 178.3,184.1 178.7,185.9 179.2,180.6 179.6,178.5 180.0,179.2 180.5,187.0 180.9,183.1 181.3,173.5 181.8,188.2 182.2,196.9 182.6,195.3 183.0,200.9 183.5,196.3 183.9,192.9 184.3,194.8 184.8,196.6 185.2,197.5 185.6,199.0 186.1,201.2 186.5,203.1 186.9,204.4 187.4,203.0 187.8,202.8 188.2,208.0 188.7,201.9 189.1,201.2 189.5,201.9 190.0,202.8 190.4,204.9 190.8,211.2 191.2,207.2 191.7,209.8 192.1,205.3 192.5,200.2 193.0,197.4 193.4,199.7 193.8,202.8 194.3,207.4 194.7,206.9 195.1,211.5 195.6,213.7 196.0,213.2 196.4,221.8 196.9,212.2 197.3,206.5 197.7,202.9 198.1,215.6 198.6,223.5 199.0,227.0 199.4,225.2 199.9,225.6 200.3,231.8 200.7,221.7 201.2,212.5 201.6,216.3 202.0,212.4 202.5,220.8 202.9,223.8 203.3,218.5 203.8,215.4 204.2,216.3 204.6,223.7 205.1,215.3 205.5,214.1 205.9,211.3 206.3,203.8 206.8,209.3 207.2,207.9 207.6,204.1 208.1,204.5 208.5,210.8 208.9,203.8 209.4,201.0 209.8,200.2 210.2,189.7 210.7,199.4 211.1,201.3 211.5,196.9 212.0,193.1 212.4,199.2 212.8,204.2 213.3,208.0 213.7,210.7 214.1,208.9 214.5,211.6 215.0,206.7 215.4,199.6 215.8,204.0 216.3,203.3 216.7,199.9 217.1,201.9 217.6,206.7 218.0,211.2 218.4,216.0 218.9,213.0 219.3,218.8 219.7,205.5 220.2,201.3 220.6,200.7 221.0,194.2 221.4,202.2 221.9,207.1 222.3,214.4 222.7,207.5 223.2,203.9 223.6,205.4 224.0,212.0 224.5,199.7 224.9,184.9 225.3,190.4 225.8,182.9 226.2,195.5 226.6,210.3 227.1,204.5 227.5,201.5 227.9,191.0 228.4,177.6 228.8,183.9 229.2,184.7 229.6,178.9 230.1,195.6 230.5,210.9 230.9,192.6 231.4,193.0 231.8,210.4 232.2,204.1 232.7,202.0 233.1,202.2 233.5,200.0 234.0,196.3 234.4,207.8 234.8,220.3 235.3,214.0 235.7,211.5 236.1,212.9 236.6,205.5 237.0,217.0 237.4,230.2 237.8,231.1 238.3,225.3 238.7,221.1 239.1,225.3 239.6,237.3 240.0,221.5 240.4,217.7 240.9,219.2 241.3,211.4 241.7,222.3 242.2,225.3 242.6,221.9 243.0,219.3 243.5,221.1 243.9,224.9 244.3,215.3 244.8,206.4 245.2,210.5 245.6,205.4 246.0,213.6 246.5,225.3 246.9,220.4 247.3,219.9 247.8,225.7 248.2,217.4 248.6,210.4 249.1,214.7 249.5,216.4 249.9,216.1 250.4,209.8 250.8,220.6 251.2,225.0 251.7,224.9 252.1,220.6 252.5,223.7 252.9,230.0 253.4,221.8 253.8,218.1 254.2,224.1 254.7,222.4 255.1,214.3 255.5,218.9 256.0,215.6 256.4,213.2 256.8,215.5 257.3,219.8 257.7,225.4 258.1,220.6 258.6,220.2 259.0,214.7 259.4,206.5 259.9,208.3 260.3,205.8 260.7,204.1 261.1,207.6 261.6,210.7 262.0,207.8 262.4,210.0 262.9,206.8 263.3,201.8 263.7,196.7 264.2,189.6 264.6,192.3 265.0,194.3 265.5,199.8 265.9,208.6 266.3,206.1 266.8,210.2 267.2,205.4 267.6,199.5 268.1,192.8 268.5,190.3 268.9,187.2 269.3,192.5 269.8,186.1 270.2,200.3 270.6,210.8 271.1,217.1 271.5,221.9 271.9,226.1 272.4,216.5 272.8,213.4 273.2,210.3 273.7,208.4 274.1,205.7 274.5,202.8 275.0,206.5 275.4,211.2 275.8,212.4 276.3,209.4 276.7,209.6 277.1,210.2 277.5,208.2 278.0,206.1 278.4,205.7 278.8,205.7 279.3,205.1 279.7,206.2 280.1,206.3 280.6,208.2 281.0,208.7 281.4,209.9 281.9,211.0 282.3,209.4 282.7,211.6 283.2,206.7 283.6,201.5 284.0,204.4 284.4,206.2 284.9,206.9 285.3,212.9 285.7,211.9 286.2,207.1 286.6,201.1 287.0,197.2 287.5,198.4 287.9,203.4 288.3,216.7 288.8,211.4 289.2,215.2 289.6,212.1 290.1,208.8 290.5,204.3 290.9,206.0 291.4,209.8 291.8,219.3 292.2,208.0 292.6,201.4 293.1,197.0 293.5,202.7 293.9,209.1 294.4,210.9 294.8,217.7 295.2,210.6 295.7,208.3 296.1,199.8 296.5,196.7 297.0,202.0 297.4,218.8 297.8,205.2 298.3,199.0 298.7,197.0 299.1,185.3 299.6,199.6 300.0,215.6 300.4,212.0 300.8,202.2 301.3,200.5 301.7,196.0 302.1,193.1 302.6,206.3 303.0,217.3 303.4,208.3 303.9,197.3 304.3,205.6 304.7,211.8 305.2,205.5 305.6,200.7 306.0,193.0 306.5,193.7 306.9,202.6 307.3,207.8 307.8,204.6 308.2,200.2 308.6,198.6 309.0,189.4 309.5,183.7 309.9,188.3 310.3,192.1 310.8,193.6 311.2,196.7 311.6,200.8 312.1,204.6 312.5,201.7 312.9,196.6 313.4,194.8 313.8,192.4 314.2,191.0 314.7,188.1 315.1,188.3 315.5,191.5 315.9,197.5 316.4,192.5 316.8,190.7 317.2,192.7 317.7,192.1 318.1,195.0 318.5,191.9 319.0,195.7 319.4,184.6 319.8,177.9 320.3,180.0 320.7,173.5 321.1,183.1 321.6,191.6 322.0,190.9 322.4,186.7 322.9,186.0 323.3,182.7 323.7,180.1 324.1,179.0 324.6,185.8 325.0,192.5 325.4,184.7 325.9,183.7 326.3,187.3 326.7,187.6 327.2,190.6 327.6,185.4 328.0,183.9 328.5,180.1 328.9,181.3 329.3,182.5 329.8,186.4 330.2,190.8 330.6,186.1 331.1,178.1 331.5,185.1 331.9,188.7 332.3,185.0 332.8,186.7 333.2,182.6 333.6,180.6 334.1,178.9 334.5,174.9 334.9,179.8 335.4,185.4 335.8,192.8 336.2,185.4 336.7,172.4 337.1,182.0 337.5,183.9 338.0,177.4 338.4,176.5 338.8,172.5 339.2,176.4 339.7,178.9 340.1,184.5 340.5,189.9 341.0,187.3 341.4,181.4 341.8,174.9 342.3,172.0 342.7,169.9 343.1,173.2 343.6,176.3 344.0,177.6 344.4,181.5 344.9,184.8 345.3,182.2 345.7,178.7 346.2,173.3 346.6,171.7 347.0,166.8 347.4,161.9 347.9,171.2 348.3,179.8 348.7,173.1 349.2,174.9 349.6,173.2 350.0,169.6 350.5,165.8 350.9,165.5 351.3,164.0 351.8,164.1 352.2,166.1 352.6,167.4 353.1,168.4 353.5,170.9 353.9,173.0 354.4,172.4 354.8,169.6 355.2,166.0 355.6,161.8 356.1,163.1 356.5,164.7 356.9,167.2 357.4,170.6 357.8,172.7 358.2,176.0 358.7,173.0 359.1,171.9 359.5,176.9 360.0,169.1 360.4,167.2 360.8,167.8 361.3,163.6 361.7,170.4 362.1,176.5 362.6,179.5 363.0,174.6 363.4,171.5 363.8,168.8 364.3,174.0 364.7,181.3 365.1,176.4 365.6,174.0 366.0,169.8 366.4,175.4 366.9,181.2 367.3,177.6 367.7,174.3 368.2,173.0 368.6,169.8 369.0,170.1 369.5,172.0 369.9,172.4 370.3,166.1 370.7,175.0 371.2,184.0 371.6,182.5 372.0,186.0 372.5,180.2 372.9,174.6 373.3,170.2 373.8,168.0 374.2,163.5 374.6,166.9 375.1,169.4 375.5,173.8 375.9,173.9 376.4,175.8 376.8,175.8 377.2,174.3 377.7,176.9 378.1,170.8 378.5,164.7 378.9,160.7 379.4,157.4 379.8,159.8 380.2,156.3 380.7,162.8 381.1,170.0 381.5,173.6 382.0,169.6 382.4,165.5 382.8,165.5 383.3,172.4 383.7,165.9 384.1,159.1 384.6,163.3 385.0,167.4 385.4,169.2 385.9,170.8 386.3,171.8 386.7,171.8 387.1,169.0 387.6,168.0 388.0,163.5 388.4,160.6 388.9,164.5 389.3,170.2 389.7,174.2 390.2,177.4 390.6,180.5 391.0,173.2 391.5,164.5 391.9,168.4 392.3,172.6 392.8,177.4 393.2,175.3 393.6,171.9 394.1,167.2 394.5,169.3 394.9,169.1 395.3,174.6 395.8,178.4 396.2,177.8 396.6,176.8 397.1,176.6 397.5,175.8 397.9,175.1 398.4,174.6 398.8,174.4 399.2,176.2 399.7,174.8 400.1,178.7 400.5,180.6 401.0,180.9 401.4,183.9 401.8,180.4 402.2,176.7 402.7,175.0 403.1,177.3 403.5,177.9 404.0,178.4 404.4,180.8 404.8,182.1 405.3,180.1 405.7,175.3 406.1,179.8 406.6,181.2 407.0,186.4 407.4,180.6 407.9,179.9 408.3,180.1 408.7,182.9 409.2,186.2 409.6,184.6 410.0,185.2 410.4,179.7 410.9,176.0 411.3,177.4 411.7,178.6 412.2,180.5 412.6,181.6 413.0,182.6 413.5,185.1 413.9,184.6 414.3,182.5 414.8,182.4 415.2,180.3 415.6,178.0 416.1,180.4 416.5,184.3 416.9,179.8 417.4,175.1 417.8,177.1 418.2,179.7 418.6,180.0 419.1,180.4 419.5,181.5 419.9,182.1 420.4,180.2 420.8,184.6 421.2,177.4 421.7,168.4 422.1,163.5 422.5,165.0 423.0,166.0 423.4,170.1 423.8,173.2 424.3,169.3 424.7,159.4 425.1,169.2 425.5,173.7 426.0,169.0 426.4,164.4 426.8,161.2 427.3,160.6 427.7,162.6 428.1,165.3 428.6,167.8 429.0,169.4 429.4,174.1 429.9,171.5 430.3,174.8 430.7,169.0 431.2,159.4 431.6,163.2 432.0,161.6 432.5,165.8 432.9,171.2 433.3,176.6 433.7,179.4 434.2,183.5 434.6,187.3 435.0,179.9 435.5,168.1 435.9,173.3 436.3,172.3 436.8,170.7 437.2,168.8 437.6,170.2 438.1,172.5 438.5,174.2 438.9,176.1 439.4,177.0 439.8,178.1 440.2,180.0 440.7,176.4 441.1,172.7 441.5,166.7 441.9,164.0 442.4,168.4 442.8,171.7 443.2,175.9 443.7,177.7 444.1,176.7 444.5,174.3 445.0,178.3 445.4,173.4 445.8,166.9 446.3,165.4 446.7,167.8 447.1,170.2 447.6,164.8 448.0,175.2 448.4,183.6 448.9,181.1 449.3,180.4 449.7,181.3 450.1,188.7 450.6,178.9 451.0,168.8 451.4,172.9 451.9,177.5 452.3,179.7 452.7,178.6 453.2,171.1 453.6,177.2 454.0,178.7 454.5,179.3 454.9,184.6 455.3,176.3 455.8,174.5 456.2,174.6 456.6,167.5 457.0,176.5 457.5,187.5 457.9,183.5 458.3,188.8 458.8,178.6 459.2,158.5 459.6,167.8 460.1,167.9 460.5,168.6 460.9,174.2 461.4,181.5 461.8,185.6 462.2,192.2 462.7,183.0 463.1,183.9 463.5,194.6 464.0,190.2 464.4,185.2 464.8,185.0 465.2,184.8 465.7,189.9 466.1,192.0 466.5,188.6 467.0,193.6 467.4,194.8 467.8,196.0 468.3,202.1 468.7,194.3 469.1,190.1 469.6,192.1 470.0,187.0 470.4,195.6 470.9,203.1 471.3,204.2 471.7,202.0 472.2,198.6 472.6,194.7 473.0,197.9 473.4,194.3 473.9,193.9 474.3,195.1 474.7,191.9 475.2,203.0 475.6,210.6 476.0,206.3 476.5,199.0 476.9,194.5 477.3,197.9 477.8,200.7 478.2,203.4 478.6,205.9 479.1,203.8 479.5,197.5 479.9,206.6 480.4,209.6 480.8,203.5 481.2,206.0 481.6,215.9 482.1,208.7 482.5,207.2 482.9,208.9 483.4,206.5 483.8,199.9 484.2,207.4 484.7,206.5 485.1,204.5 485.5,198.8 486.0,199.9 486.4,202.2 486.8,202.2 487.3,204.7 487.7,209.7 488.1,205.5 488.5,210.7 489.0,207.6 489.4,203.7 489.8,201.6 490.3,200.7 490.7,203.0 491.1,204.8 491.6,208.6 492.0,212.4 492.4,211.1 492.9,216.8 493.3,210.3 493.7,206.6 494.2,204.3 494.6,201.8 495.0,207.8 495.5,208.0 495.9,212.9 496.3,209.7 496.7,207.9 497.2,202.3 497.6,197.5 498.0,204.2 498.5,210.5 498.9,203.3 499.3,198.6 499.8,202.0 500.2,200.8 500.6,203.3 501.1,205.5 501.5,206.2 501.9,196.0 502.4,190.7 502.8,192.8 503.2,192.6 503.7,199.6 504.1,205.9 504.5,202.2 504.9,202.0 505.4,205.0 505.8,202.5 506.2,194.8 506.7,189.0 507.1,193.5 507.5,193.2 508.0,190.1 508.4,188.4 508.8,192.0 509.3,196.6 509.7,203.3 510.1,196.4 510.6,183.1 511.0,191.5 511.4,191.3 511.8,185.4 512.3,181.4 512.7,185.7 513.1,184.4 513.6,187.9 514.0,187.9 514.4,177.7 514.9,191.1 515.3,201.4 515.7,205.3 516.2,198.5 516.6,188.8 517.0,188.3 517.5,186.9 517.9,188.3 518.3,191.4 518.8,186.2 519.2,193.5 519.6,201.8 520.0,201.4 520.5,203.1 520.9,198.7 521.3,193.1 521.8,191.0 522.2,194.5 522.6,196.9 523.1,201.7"/>
</g>
<line x1="153.7" y1="31.1" x2="196.6" y2="31.1" stroke="#1ef014" stroke-width="3.3"/>
<path d="M170.3,26.6 L180.1,31.3 L170.3,36.0 Z" fill="#1ef014" stroke="#000" stroke-width="0.9"/>
<text x="211.3" y="38.3" font-size="19.7" textLength="235.2" lengthAdjust="spacingAndGlyphs">HDP-SLDS State Estimate</text>
<line x1="107.6" y1="251.4" x2="145" y2="251.4" stroke="#bdbdbd" stroke-opacity="0.6" stroke-width="0.9"/>
<circle cx="126.6" cy="251" r="2.6" fill="#eee" fill-opacity="0.3" stroke="#5c5c5c" stroke-opacity="0.9" stroke-width="1"/>
<text x="159.1" y="257.2" font-size="17.85" textLength="150" lengthAdjust="spacingAndGlyphs">Measured Position</text>
<line x1="352" y1="251.3" x2="389.4" y2="251.3" stroke="#fb951c" stroke-width="0.9"/>
<text x="404.6" y="257.2" font-size="17.85" textLength="105.3" lengthAdjust="spacingAndGlyphs">True Position</text>
<path d="M92,5.85V265.35M523.55,5.85V265.35M91.25,6.55H524.3M91.25,264.65H524.3M92,121.45H523.5" fill="none" stroke="#000" stroke-width="1.45"/>
<path d="M178.3,6.5v5M178.3,116.2v10.6M178.3,264.5v-5M264.6,6.5v5M264.6,116.2v10.6M264.6,264.5v-5M350.9,6.5v5M350.9,116.2v10.6M350.9,264.5v-5M437.2,6.5v5M437.2,116.2v10.6M437.2,264.5v-5M92.0,48.4h5M523.5,48.4h-5M92.0,84.7h5M523.5,84.7h-5M92.0,228.8h5M523.5,228.8h-5M92.0,193.0h5M523.5,193.0h-5M92.0,157.2h5M523.5,157.2h-5" stroke="#000" stroke-width="0.6" fill="none"/>
<text transform="translate(92.0,287) scale(1,1.08)" font-size="22.8" text-anchor="middle">0</text>
<text transform="translate(178.3,287) scale(1,1.08)" font-size="22.8" text-anchor="middle">200</text>
<text transform="translate(264.6,287) scale(1,1.08)" font-size="22.8" text-anchor="middle">400</text>
<text transform="translate(350.9,287) scale(1,1.08)" font-size="22.8" text-anchor="middle">600</text>
<text transform="translate(437.2,287) scale(1,1.08)" font-size="22.8" text-anchor="middle">800</text>
<text transform="translate(523.5,287) scale(1,1.08)" font-size="22.8" text-anchor="middle">1000</text>
<text transform="translate(87.6,54.2) scale(1,1.08)" font-size="22.8" text-anchor="end">4</text>
<text transform="translate(87.6,90.5) scale(1,1.08)" font-size="22.8" text-anchor="end">2</text>
<text transform="translate(87.2,270.4) scale(1,1.08)" font-size="22.8" text-anchor="end">0.00</text>
<text transform="translate(87.2,234.7) scale(1,1.08)" font-size="22.8" text-anchor="end">0.25</text>
<text transform="translate(87.2,198.9) scale(1,1.08)" font-size="22.8" text-anchor="end">0.50</text>
<text transform="translate(87.2,163.2) scale(1,1.08)" font-size="22.8" text-anchor="end">0.75</text>
<text class="se" x="206.8" y="311" font-size="29.5" textLength="145.2" lengthAdjust="spacingAndGlyphs">Observation</text>
<text class="se" x="360" y="311" font-size="29.5" textLength="92.5" lengthAdjust="spacingAndGlyphs">Number</text>
<text class="se" style="stroke:#fff;stroke-width:0.65px" transform="rotate(-90) translate(-76.34,51.81) scale(1.018,1)" font-size="28.8" font-style="italic">s</text>
<text class="se" style="stroke:#fff;stroke-width:0.25px" transform="rotate(-90) translate(-63.80,56.60) scale(1.150,1)" font-size="20.5" font-style="italic">i</text>
<text class="se" style="stroke:#fff;stroke-width:0.65px" transform="rotate(-90) translate(-159.42,27.85) scale(0.720,1)" font-size="33.1">)</text>
<text class="se" style="stroke:#fff;stroke-width:0.95px" transform="rotate(-90) translate(-174.84,26.30) scale(1.348,1)" font-size="30.3" font-style="italic">t</text>
<text class="se" style="stroke:#fff;stroke-width:0.65px" transform="rotate(-90) translate(-182.24,27.91) scale(0.833,1)" font-size="33.0">(</text>
<text class="se" style="stroke:#fff;stroke-width:0.65px" transform="rotate(-90) translate(-195.01,27.59) scale(0.934,1)" font-size="28.9" font-style="italic">y</text>
<text class="se" style="stroke:#fff;stroke-width:0.65px" transform="rotate(-90) translate(-210.60,34.36) scale(1.006,1)" font-size="44.5">/</text>
<text class="se" style="stroke:#fff;stroke-width:0.25px" transform="rotate(-90) translate(-219.90,31.80) scale(1.150,1)" font-size="20.5" font-style="italic">i</text>
<text class="se" style="stroke:#fff;stroke-width:0.65px" transform="rotate(-90) translate(-241.54,26.20) scale(1.058,1)" font-size="35.3" font-style="italic">ψ</text>
</svg></body></html>
